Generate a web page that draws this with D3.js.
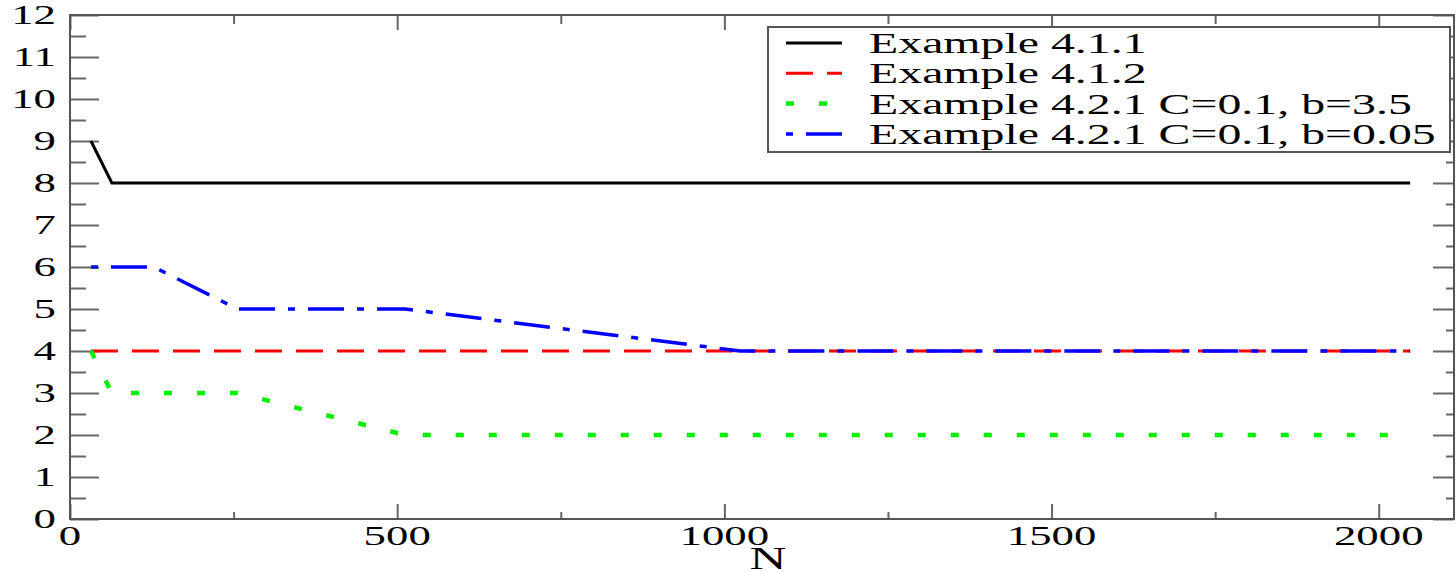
<!DOCTYPE html>
<html>
<head>
<meta charset="utf-8">
<script src="https://cdn.jsdelivr.net/npm/d3@7"></script>
<style>
  body { margin: 0; background: #fff; }
  svg { display: block; }
  .lbl { font-family: "Liberation Serif", "DejaVu Serif", serif; fill: #000; }
</style>
</head>
<body>
<svg id="chart" width="1456" height="572"></svg>
<script>
// data
var nValues = [32, 64, 128, 256, 512, 1024, 2048];
var ex411 = [9, 8, 8, 8, 8, 8, 8];
var ex412 = [4, 4, 4, 4, 4, 4, 4];
var ex421a = [4, 3, 3, 3, 2, 2, 2];   // C=0.1, b=3.5
var ex421b = [6, 6, 6, 5, 5, 4, 4];   // C=0.1, b=0.05
var seriesNames = ['Example 4.1.1', 'Example 4.1.2', 'Example 4.2.1 C=0.1, b=3.5', 'Example 4.2.1 C=0.1, b=0.05'];
var xMajor = [0, 500, 1000, 1500, 2000];
var yMajor = [0, 1, 2, 3, 4, 5, 6, 7, 8, 9, 10, 11, 12];

var series = [
	{name: seriesNames[0], vals: ex411, color: '#000000', width: 3, dash: null},
	{name: seriesNames[1], vals: ex412, color: '#ff0000', width: 3, dash: '27,14'},
	{name: seriesNames[2], vals: ex421a, color: '#00ee00', width: 4.5, dash: '8,25'},
	{name: seriesNames[3], vals: ex421b, color: '#0000ff', width: 3.5, dash: '7,13,36,13'}
];

var pLeft = 70, pRight = 1454, pTop = 15, pBottom = 519;
var sx = 1.6; // the picture is stretched sideways, so is the text

var xScale = d3.scaleLinear().domain([0, 2115]).range([pLeft, pRight]);
var yScale = d3.scaleLinear().domain([0, 12]).range([pBottom, pTop]);

var svg = d3.select('#chart');

//Ticks (all pointing inward)
var xMinor = d3.range(250, 2115, 500);
var yMinor = d3.range(0.5, 12, 1);

function tickAxis(axisFn, scale, vals, size, tr){
	var g = svg.append('g').attr('transform', tr)
		.call(axisFn(scale).tickValues(vals).tickSize(-size).tickSizeOuter(0).tickFormat(''));
	g.select('.domain').remove();
	g.selectAll('line').attr('stroke', '#666').attr('stroke-width', 2);
	return g;
}
tickAxis(d3.axisBottom, xScale, xMajor, 15, 'translate(0,' + pBottom + ')');
tickAxis(d3.axisBottom, xScale, xMinor, 7, 'translate(0,' + pBottom + ')');
tickAxis(d3.axisTop, xScale, xMajor, 15, 'translate(0,' + pTop + ')');
tickAxis(d3.axisTop, xScale, xMinor, 9, 'translate(0,' + pTop + ')');
tickAxis(d3.axisLeft, yScale, yMajor, 29, 'translate(' + pLeft + ',0)');
tickAxis(d3.axisLeft, yScale, yMinor, 16, 'translate(' + pLeft + ',0)');
tickAxis(d3.axisRight, yScale, yMajor, 21, 'translate(' + pRight + ',0)');
tickAxis(d3.axisRight, yScale, yMinor, 8, 'translate(' + pRight + ',0)');

//Frame
svg.append('rect')
	.attr('x', pLeft).attr('y', pTop)
	.attr('width', pRight - pLeft).attr('height', pBottom - pTop)
	.attr('fill', 'none').attr('stroke', '#555').attr('stroke-width', 2);

//Tick labels
svg.selectAll('.xl').data(xMajor).enter().append('text')
	.attr('class', 'lbl')
	.attr('transform', function(d){ return 'translate(' + xScale(d) + ',545) scale(' + sx + ',1)'; })
	.attr('text-anchor', 'middle')
	.attr('font-size', 28)
	.text(function(d){ return d; });

svg.selectAll('.yl').data(yMajor).enter().append('text')
	.attr('class', 'lbl')
	.attr('transform', function(d){ return 'translate(56,' + (yScale(d) + 9) + ') scale(' + sx + ',1)'; })
	.attr('text-anchor', 'end')
	.attr('font-size', 28)
	.text(function(d){ return d; });

svg.append('text').attr('class', 'lbl')
	.attr('transform', 'translate(768,569) scale(' + sx + ',1)')
	.attr('text-anchor', 'middle')
	.attr('font-size', 32)
	.text('N');

//Lines
var line = d3.line()
	.x(function(d){ return xScale(d[0]); })
	.y(function(d){ return yScale(d[1]); });

series.forEach(function(s){
	var pts = nValues.map(function(n, i){ return [n, s.vals[i]]; });
	svg.append('path')
		.datum(pts)
		.attr('d', line)
		.attr('fill', 'none')
		.attr('stroke', s.color)
		.attr('stroke-width', s.width)
		.attr('stroke-dasharray', s.dash);
});

//Legend
var lg = svg.append('g');
lg.append('rect')
	.attr('x', 768).attr('y', 27).attr('width', 682).attr('height', 125)
	.attr('fill', '#fff').attr('stroke', '#555').attr('stroke-width', 2);

series.forEach(function(s, i){
	var cy = 43 + i * 30.3;
	lg.append('line')
		.attr('x1', 786).attr('x2', 842).attr('y1', cy).attr('y2', cy)
		.attr('stroke', s.color).attr('stroke-width', s.width)
		.attr('stroke-dasharray', s.dash);
	lg.append('text').attr('class', 'lbl')
		.attr('transform', 'translate(869,' + (cy + 10) + ') scale(1.65,1)')
		.attr('font-size', 29)
		.text(s.name);
});
</script>
</body>
</html>
